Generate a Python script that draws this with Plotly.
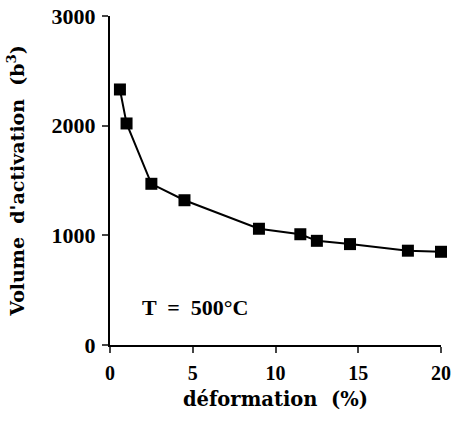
import plotly.graph_objects as go

deformation = [0.6, 1.0, 2.5, 4.5, 9.0, 11.5, 12.5, 14.5, 18.0, 20.0]
volume = [2330, 2020, 1470, 1320, 1060, 1010, 950, 920, 860, 850]
x_ticks = [0, 5, 10, 15, 20]
y_ticks = [0, 1000, 2000, 3000]

tick_family = "Liberation Serif, Times New Roman, serif"
title_family = "DejaVu Serif, Liberation Serif, serif"

fig = go.Figure()
fig.add_trace(go.Scatter(
    x=deformation, y=volume, mode="lines+markers",
    line=dict(color="black", width=2),
    marker=dict(symbol="square", size=12, color="black"),
    cliponaxis=False, showlegend=False,
))

fig.add_annotation(
    x=1.8, y=340, xref="x", yref="y", xanchor="left", yanchor="middle",
    text="<b>T  =  500°C</b>", showarrow=False,
    font=dict(family=tick_family, size=22, color="black"),
)

fig.update_xaxes(
    range=[0, 20], tickvals=x_ticks, ticks="outside", ticklen=6, tickwidth=2,
    showline=True, linecolor="black", linewidth=2, showgrid=False, zeroline=False,
    automargin=False, ticklabelstandoff=3,
    tickfont=dict(family=tick_family, size=20, color="black", weight="bold"),
    title=dict(text="<b>d\u00e9formation\u00a0\u00a0(%)</b>", standoff=9,
               font=dict(family=title_family, size=19.5, color="black")),
)
fig.update_yaxes(
    range=[0, 3000], tickvals=y_ticks, ticks="outside", ticklen=6, tickwidth=2,
    showline=True, linecolor="black", linewidth=2, showgrid=False, zeroline=False,
    automargin=False, ticklabelstandoff=2,
    tickfont=dict(family=tick_family, size=22, color="black", weight="bold"),
    title=dict(text="<b>Volume\u00a0\u00a0d'activation\u00a0\u00a0(b<sup>3</sup>)</b>", standoff=22,
               font=dict(family=title_family, size=19, color="black")),
)

fig.update_layout(
    width=454, height=421,
    margin=dict(l=110, r=13, t=16, b=76),
    plot_bgcolor="white", paper_bgcolor="white",
)

fig.write_html("out.html")
